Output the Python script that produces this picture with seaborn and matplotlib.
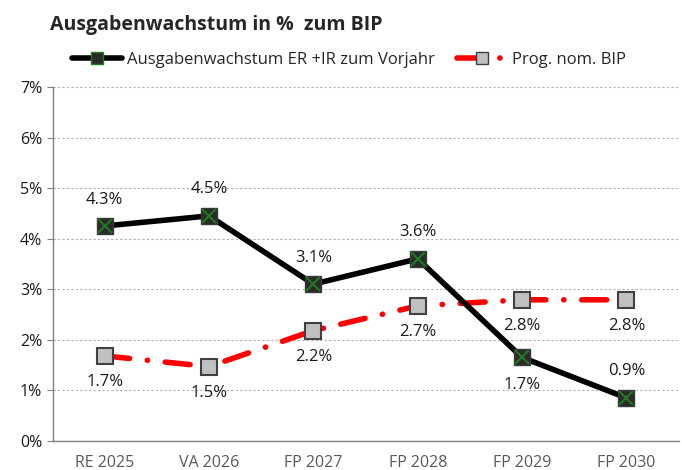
import pandas as pd
import matplotlib.pyplot as plt
import seaborn as sns
import numpy as np
from matplotlib.lines import Line2D
from matplotlib.ticker import FixedLocator

# --- Daten ---
kategorien = ["RE 2025", "VA 2026", "FP 2027", "FP 2028", "FP 2029", "FP 2030"]
ausgaben = [4.25, 4.45, 3.1, 3.6, 1.65, 0.85]
ausgaben_labels = ["4.3%", "4.5%", "3.1%", "3.6%", "1.7%", "0.9%"]
bip = [1.68, 1.47, 2.18, 2.67, 2.79, 2.79]
bip_labels = ["1.7%", "1.5%", "2.2%", "2.7%", "2.8%", "2.8%"]

sns.set_style("white")
plt.rcParams['font.family'] = ['Open Sans', 'DejaVu Sans']

df = pd.DataFrame({
    "kategorie": kategorien * 2,
    "wert": ausgaben + bip,
    "serie": ["ausgaben"] * 6 + ["bip"] * 6,
})
df["x"] = df.groupby("serie").cumcount()

fig = plt.figure(figsize=(6.82, 4.70), dpi=100)
ax = fig.add_axes([0.077, 0.062, 0.918, 0.753])

red_dash = (0, (4.5, 3.2, 0.05, 3.2))

# BIP-Linie (rot, Strich-Punkt)
sns.lineplot(data=df[df.serie == "bip"], x="x", y="wert", ax=ax, sort=False,
             color="#ff0000", lw=4, legend=False)
ax.lines[-1].set_linestyle(red_dash)
ax.lines[-1].set_dash_capstyle("round")
ax.plot(range(6), bip, ls="none", marker="s", ms=12, mfc="#c0c0c0",
        mec="#404040", mew=1.5, zorder=4)

# Ausgabenwachstum (schwarz)
sns.lineplot(data=df[df.serie == "ausgaben"], x="x", y="wert", ax=ax, sort=False,
             color="black", lw=4, legend=False, zorder=5)
ax.plot(range(6), ausgaben, ls="none", marker="s", ms=12, mfc="#2b2b2b",
        mec="#3a3a3a", mew=1, zorder=6)
ax.plot(range(6), ausgaben, ls="none", marker="x", ms=10, mec="#1e7a1e",
        mew=1.5, zorder=7)

# Beschriftungen
oben = [True, True, True, True, False, True]
for i, (v, lab) in enumerate(zip(ausgaben, ausgaben_labels)):
    dy = 19 if oben[i] else -20
    ax.annotate(lab, (i, v), xytext=(0, dy), textcoords="offset points",
                ha="center", va="center", fontsize=12, color="#1a1a1a")
for i, (v, lab) in enumerate(zip(bip, bip_labels)):
    ax.annotate(lab, (i, v), xytext=(0, -19), textcoords="offset points",
                ha="center", va="center", fontsize=12, color="#1a1a1a")

# Achsen
ax.set_xlim(-0.5, 5.5)
ax.set_ylim(0, 7)
ax.set_xticks(range(6))
ax.set_xticklabels(kategorien, fontsize=11.5, color="#595959")
ax.xaxis.set_minor_locator(FixedLocator(np.arange(0.5, 5.5, 1)))
ax.tick_params(axis="x", which="major", length=0, pad=10)
ax.tick_params(axis="x", which="minor", length=5, color="#808080", direction="out")
ax.set_yticks(range(8))
ax.set_yticklabels([f"{i}%" for i in range(8)], fontsize=11.5, color="#1a1a1a")
ax.tick_params(axis="y", length=4, color="#808080", direction="out", left=True)
ax.set_xlabel("")
ax.set_ylabel("")
ax.grid(axis="y", ls=(0, (2, 2)), color="#b0b0b0", lw=0.8)
ax.set_axisbelow(True)
for s in ["top", "right"]:
    ax.spines[s].set_visible(False)
for s in ["left", "bottom"]:
    ax.spines[s].set_color("#808080")
    ax.spines[s].set_linewidth(1)

# Titel
fig.text(0.073, 0.947, "Ausgabenwachstum in %  zum BIP", fontsize=14,
         fontweight="bold", ha="left", va="center")

# Legende
h1 = Line2D([0], [0], color="black", lw=4, marker="s", ms=9, mfc="#2b2b2b",
            mec="#1e7a1e")
h2 = Line2D([0], [0], color="#ff0000", lw=4, ls=red_dash, marker="s", ms=9,
            mfc="#c0c0c0", mec="#404040", dash_capstyle="round")
fig.legend([h1, h2], ["Ausgabenwachstum ER +IR zum Vorjahr", "Prog. nom. BIP"],
           loc="center", bbox_to_anchor=(0.512, 0.872), ncol=2, frameon=False,
           fontsize=12, handlelength=3.0, handletextpad=0.3, columnspacing=1.3)

fig.savefig("out.png", dpi=100)
